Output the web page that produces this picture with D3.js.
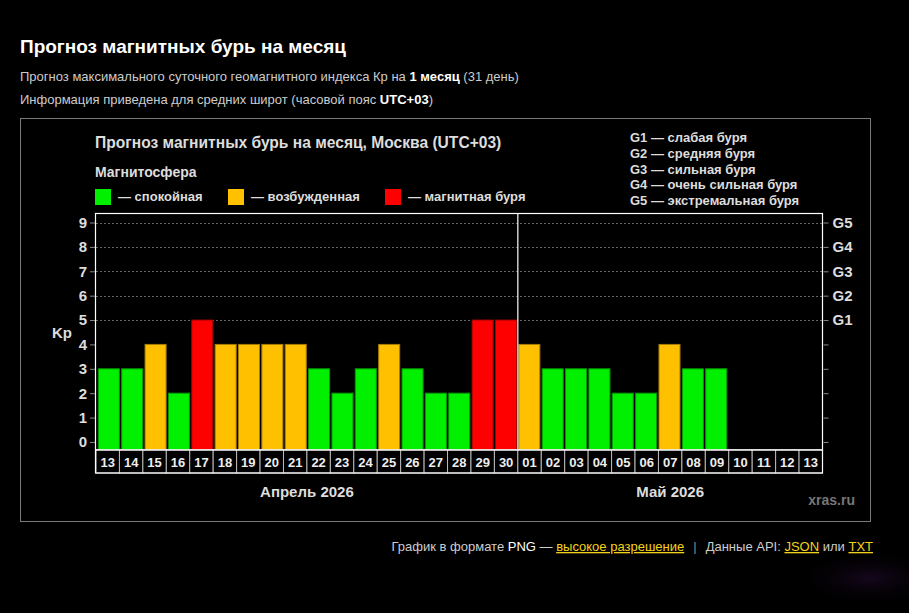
<!DOCTYPE html>
<html>
<head>
<meta charset="utf-8">
<script src="https://d3js.org/d3.v7.min.js"></script>
<style>
  html, body { margin: 0; padding: 0; background: #000; overflow: hidden; }
  svg { display: block; font-family: "Liberation Sans", Arial, sans-serif; }
</style>
</head>
<body>
<svg id="chart" width="909" height="613"></svg>
<script>
// chart data
const aprilDays = ["13","14","15","16","17","18","19","20","21","22","23","24","25","26","27","28","29","30"];
const mayDays = ["01","02","03","04","05","06","07","08","09","10","11","12","13"];
const kpApril = [3,3,4,2,5,4,4,4,4,3,2,3,4,3,2,2,5,5];
const kpMay = [4,3,3,3,2,2,4,3,3,null,null,null,null];
const kpTicks = [0,1,2,3,4,5,6,7,8,9];
const gLabels = ["G1","G2","G3","G4","G5"];
const gLegend = ["G1 — слабая буря","G2 — средняя буря","G3 — сильная буря","G4 — очень сильная буря","G5 — экстремальная буря"];
const monthNames = ["Апрель 2026","Май 2026"];

const days = aprilDays.map(d => ({key: "04-" + d, label: d, kp: null}))
  .concat(mayDays.map(d => ({key: "05-" + d, label: d, kp: null})));
kpApril.concat(kpMay).forEach((v, i) => days[i].kp = v);

const colors = {quiet: "#00f000", active: "#ffc000", storm: "#ff0000"};
const levelColor = v => v >= 5 ? colors.storm : (v >= 4 ? colors.active : colors.quiet);

const svg = d3.select('#chart');

// faint nebula in the corner
const defs = svg.append('defs');
const rg = defs.append('radialGradient').attr('id', 'neb');
rg.append('stop').attr('offset', '0%').attr('stop-color', '#2a0f3a').attr('stop-opacity', 0.5);
rg.append('stop').attr('offset', '100%').attr('stop-color', '#000').attr('stop-opacity', 0);
svg.append('ellipse').attr('cx', 870).attr('cy', 578).attr('rx', 80).attr('ry', 30).attr('fill', 'url(#neb)');

// page header
svg.append('text').attr('x', 20).attr('y', 53).attr('fill', '#fff')
  .attr('font-size', 19).attr('font-weight', 'bold').text('Прогноз магнитных бурь на месяц');
const sub1 = svg.append('text').attr('x', 20).attr('y', 81).attr('fill', '#ccc').attr('font-size', 13);
sub1.append('tspan').text('Прогноз максимального суточного геомагнитного индекса Кр на ');
sub1.append('tspan').attr('font-weight', 'bold').attr('fill', '#fff').text('1 месяц');
sub1.append('tspan').text(' (31 день)');
const sub2 = svg.append('text').attr('x', 20).attr('y', 104).attr('fill', '#ccc').attr('font-size', 13);
sub2.append('tspan').text('Информация приведена для средних широт (часовой пояс ');
sub2.append('tspan').attr('font-weight', 'bold').attr('fill', '#fff').text('UTC+03');
sub2.append('tspan').text(')');

// panel frame
svg.append('rect').attr('x', 20.5).attr('y', 118.5).attr('width', 850).attr('height', 403)
  .attr('fill', '#000').attr('stroke', '#7a7a7a');

// chart title & legends
svg.append('text').attr('x', 95).attr('y', 148).attr('fill', '#ddd')
  .attr('font-size', 15.6).attr('font-weight', 'bold')
  .text('Прогноз магнитных бурь на месяц, Москва (UTC+03)');
svg.append('text').attr('x', 95).attr('y', 177).attr('fill', '#ddd')
  .attr('font-size', 14).attr('font-weight', 'bold').text('Магнитосфера');

const legendItems = [
  {c: colors.quiet, t: '— спокойная', x: 95},
  {c: colors.active, t: '— возбужденная', x: 228},
  {c: colors.storm, t: '— магнитная буря', x: 385}
];
const lg = svg.append('g').selectAll('g').data(legendItems).enter().append('g');
lg.append('rect').attr('x', d => d.x).attr('y', 189).attr('width', 16).attr('height', 16).attr('fill', d => d.c);
lg.append('text').attr('x', d => d.x + 23).attr('y', 201).attr('fill', '#ddd')
  .attr('font-size', 13).attr('font-weight', 'bold').text(d => d.t);

svg.append('g').selectAll('text').data(gLegend).enter().append('text')
  .attr('x', 630).attr('y', (d, i) => 142 + i * 15.8)
  .attr('fill', '#ddd').attr('font-size', 13).attr('font-weight', 'bold').text(d => d);

// scales
const plotL = 96, plotR = 822.5, plotT = 213.5, plotB = 450;
const xCell = d3.scaleBand().domain(days.map(d => d.key)).range([plotL, plotR]).padding(0);
const xBar = d3.scaleBand().domain(days.map(d => d.key)).range([plotL, plotR]).paddingInner(0.1).paddingOuter(0.1);
const y = d3.scaleLinear().domain([-0.33, 9.37]).range([plotB, plotT]);

// gridlines (storm levels only)
svg.append('g').selectAll('line').data(kpTicks.filter(v => v >= 5)).enter().append('line')
  .attr('x1', plotL).attr('x2', plotR).attr('y1', d => Math.round(y(d)) + 0.5).attr('y2', d => Math.round(y(d)) + 0.5)
  .attr('stroke', '#666').attr('stroke-dasharray', '2,2');

// bars
svg.append('g').selectAll('rect').data(days.filter(d => d.kp != null)).enter().append('rect')
  .attr('x', d => xBar(d.key)).attr('width', xBar.bandwidth())
  .attr('y', d => y(d.kp)).attr('height', d => plotB - y(d.kp))
  .attr('fill', d => levelColor(d.kp))
  .attr('stroke', d => d3.color(levelColor(d.kp)).darker(1.2)).attr('stroke-width', 1);

// month separator
const sepX = xCell('05-01');
svg.append('line').attr('x1', sepX).attr('x2', sepX).attr('y1', plotT).attr('y2', plotB)
  .attr('stroke', '#fff').attr('stroke-width', 1.2);

// plot frame
svg.append('rect').attr('x', plotL - 0.5).attr('y', plotT).attr('width', plotR - plotL + 0.5).attr('height', plotB - plotT)
  .attr('fill', 'none').attr('stroke', '#fff').attr('stroke-width', 1.2);

// axes
const yAxisL = svg.append('g').attr('transform', `translate(${plotL - 1},0)`)
  .call(d3.axisLeft(y).tickValues(kpTicks).tickFormat(d3.format('d')).tickSize(5).tickPadding(3));
const yAxisR = svg.append('g').attr('transform', `translate(${plotR + 1},0)`)
  .call(d3.axisRight(y).tickValues(kpTicks).tickFormat(d => d >= 5 ? gLabels[d - 5] : '').tickSize(5).tickPadding(4));
[yAxisL, yAxisR].forEach(a => {
  a.select('.domain').remove();
  a.selectAll('line').attr('stroke', '#888');
  a.selectAll('text').attr('fill', '#ddd').attr('font-size', 15).attr('font-weight', 'bold')
    .attr('font-family', '"Liberation Sans", Arial, sans-serif');
});

svg.append('text').attr('x', 52).attr('y', 338).attr('fill', '#ddd')
  .attr('font-size', 15).attr('font-weight', 'bold').text('Kp');

// date cells
const cells = svg.append('g').selectAll('g').data(days).enter().append('g');
cells.append('rect').attr('x', d => xCell(d.key)).attr('y', plotB).attr('width', xCell.bandwidth()).attr('height', 23)
  .attr('fill', '#000').attr('stroke', '#bbb');
cells.append('text').attr('x', d => xCell(d.key) + xCell.bandwidth() / 2).attr('y', 467)
  .attr('text-anchor', 'middle').attr('fill', '#eee').attr('font-size', 13).attr('font-weight', 'bold')
  .text(d => d.label);
svg.append('rect').attr('x', plotL - 0.5).attr('y', plotB).attr('width', plotR - plotL + 0.5).attr('height', 23)
  .attr('fill', 'none').attr('stroke', '#fff').attr('stroke-width', 1.2);

// month labels
const monthSpans = [
  [xCell('04-' + aprilDays[0]), xCell('05-' + mayDays[0])],
  [xCell('05-' + mayDays[0]), plotR]
];
svg.append('g').selectAll('text').data(monthNames).enter().append('text')
  .attr('x', (d, i) => (monthSpans[i][0] + monthSpans[i][1]) / 2).attr('y', 497)
  .attr('text-anchor', 'middle').attr('fill', '#ddd').attr('font-size', 15).attr('font-weight', 'bold').text(d => d);

svg.append('text').attr('x', 855).attr('y', 505).attr('text-anchor', 'end').attr('fill', '#777')
  .attr('font-size', 14).attr('font-weight', 'bold').text('xras.ru');

// footer
const ft = svg.append('text').attr('x', 873).attr('y', 551).attr('text-anchor', 'end').attr('font-size', 13).attr('fill', '#ccc');
ft.append('tspan').text('График в формате ');
ft.append('tspan').attr('fill', '#fff').text('PNG');
ft.append('tspan').text(' — ');
ft.append('tspan').attr('fill', '#f3d21b').attr('text-decoration', 'underline').text('высокое разрешение');
ft.append('tspan').attr('fill', '#888').attr('dx', 9).text('|');
ft.append('tspan').attr('dx', 9).text('Данные API: ');
ft.append('tspan').attr('fill', '#f3d21b').attr('text-decoration', 'underline').text('JSON');
ft.append('tspan').text(' или ');
ft.append('tspan').attr('fill', '#f3d21b').attr('text-decoration', 'underline').text('TXT');
</script>
</body>
</html>
